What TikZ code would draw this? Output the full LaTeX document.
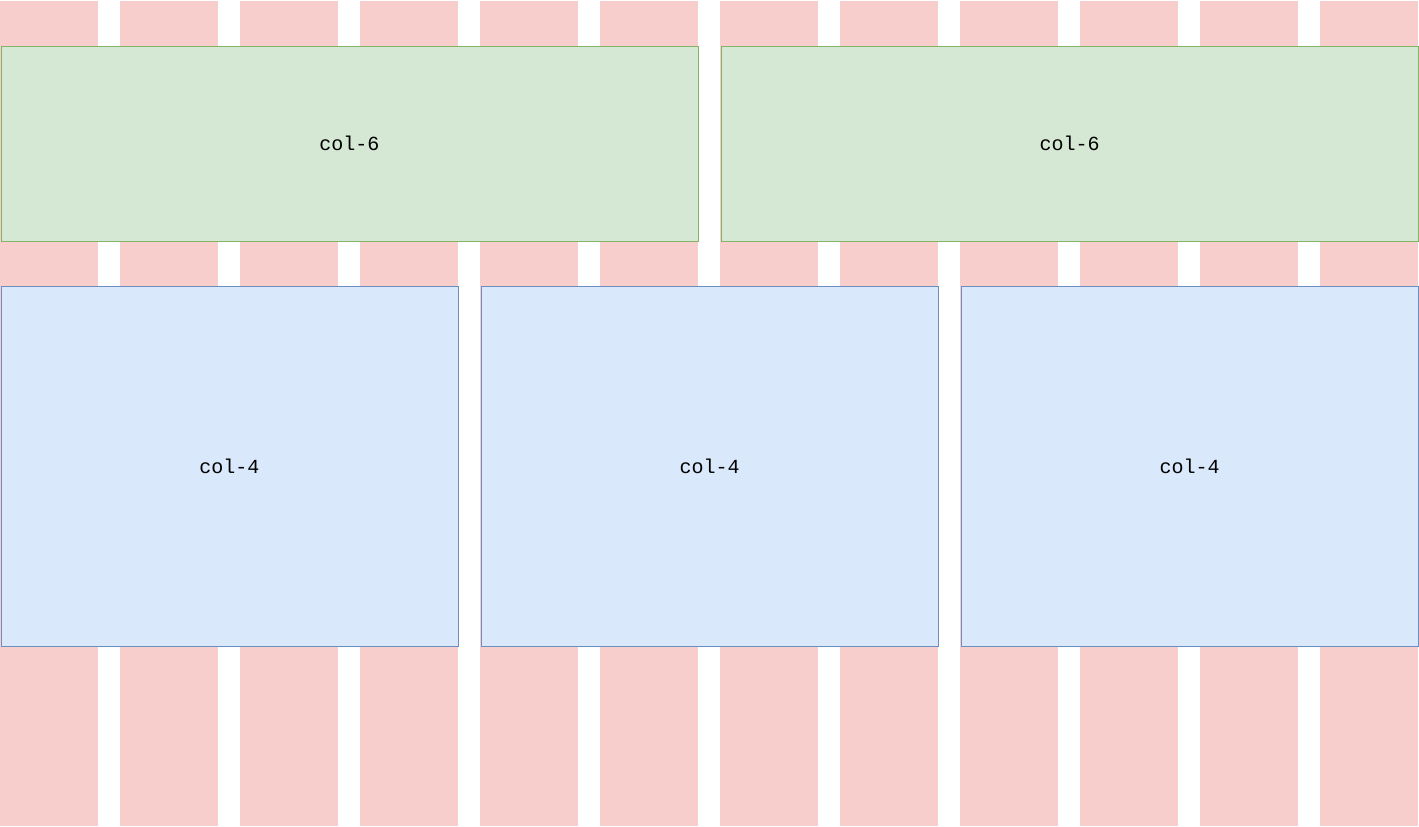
\documentclass[tikz,border=0pt]{standalone}
\usepackage{fontspec}
\setmonofont{Liberation Mono}
\usetikzlibrary{positioning}
\definecolor{gridpink}{HTML}{F8CECC}
\definecolor{sixfill}{HTML}{D5E8D4}
\definecolor{sixline}{HTML}{82B366}
\definecolor{fourfill}{HTML}{DAE8FC}
\definecolor{fourline}{HTML}{6C8EBF}
\tikzset{
	gridcol/.style={fill=gridpink, draw=none},
	cell/.style={anchor=north west, inner sep=0pt, line width=1pt,
		font=\fontsize{20}{24}\selectfont\ttfamily},
	halfbox/.style={cell, fill=sixfill, draw=sixline, minimum width=697pt, minimum height=195pt},
	thirdbox/.style={cell, fill=fourfill, draw=fourline, minimum width=457pt, minimum height=360pt}
}

\begin{document}
\begin{tikzpicture}[x=1pt,y=-1pt]
	\useasboundingbox (0,0) rectangle (1419,827);

	% twelve grid columns
	\foreach \i in {0,...,11}
		\fill[gridcol] (\i*120,0.5) rectangle ++(98,825.5);

	\node[halfbox] (L6) at (0.5,45.5)	{col-6};
	\node[halfbox] (R6) at (720.5,45.5)	{col-6};

	\node[thirdbox] (A4) at (0.5,285.5)	{col-4};
	\node[thirdbox] (B4) at (480.5,285.5)	{col-4};
	\node[thirdbox] (C4) at (960.5,285.5)	{col-4};
\end{tikzpicture}
\end{document}
